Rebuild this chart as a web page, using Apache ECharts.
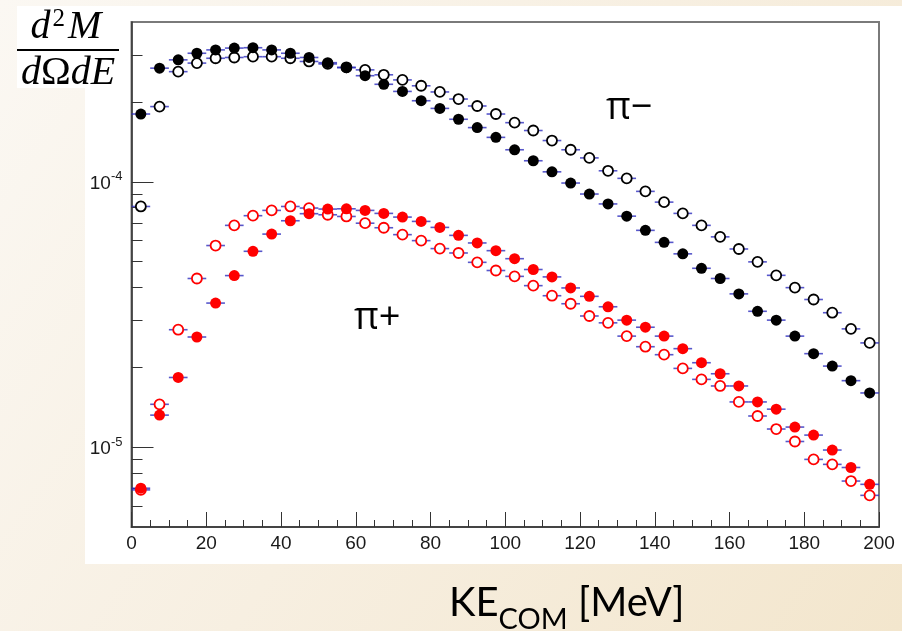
<!DOCTYPE html>
<html><head><meta charset="utf-8">
<script src="https://cdn.jsdelivr.net/npm/echarts@6/dist/echarts.min.js"></script>
<style>html,body{margin:0;padding:0;background:#f7efe0;}#c{width:902px;height:631px;}</style>
</head><body><div id="c"></div>
<script>
const binCenters = [2.5, 7.5, 12.5, 17.5, 22.5, 27.5, 32.5, 37.5, 42.5, 47.5,
  52.5, 57.5, 62.5, 67.5, 72.5, 77.5, 82.5, 87.5, 92.5, 97.5,
  102.5, 107.5, 112.5, 117.5, 122.5, 127.5, 132.5, 137.5, 142.5, 147.5,
  152.5, 157.5, 162.5, 167.5, 172.5, 177.5, 182.5, 187.5, 192.5, 197.5];
const binHalfWidth = 2.5;

const piMinusFilled = [1.80e-4, 2.68e-4, 2.88e-4, 3.05e-4, 3.14e-4, 3.19e-4, 3.20e-4, 3.14e-4, 3.05e-4, 2.94e-4,
  2.81e-4, 2.69e-4, 2.51e-4, 2.33e-4, 2.19e-4, 2.02e-4, 1.89e-4, 1.72e-4, 1.60e-4, 1.47e-4,
  1.32e-4, 1.20e-4, 1.09e-4, 9.89e-5, 8.99e-5, 8.25e-5, 7.42e-5, 6.56e-5, 5.91e-5, 5.35e-5,
  4.72e-5, 4.32e-5, 3.78e-5, 3.25e-5, 3.01e-5, 2.62e-5, 2.25e-5, 2.02e-5, 1.78e-5, 1.60e-5];
const piMinusOpen = [8.07e-5, 1.92e-4, 2.60e-4, 2.80e-4, 2.92e-4, 2.94e-4, 2.96e-4, 2.96e-4, 2.92e-4, 2.84e-4,
  2.78e-4, 2.70e-4, 2.64e-4, 2.53e-4, 2.42e-4, 2.30e-4, 2.18e-4, 2.05e-4, 1.93e-4, 1.80e-4,
  1.67e-4, 1.56e-4, 1.43e-4, 1.32e-4, 1.23e-4, 1.10e-4, 1.03e-4, 9.20e-5, 8.38e-5, 7.60e-5,
  6.85e-5, 6.20e-5, 5.58e-5, 4.99e-5, 4.44e-5, 3.99e-5, 3.60e-5, 3.21e-5, 2.79e-5, 2.47e-5];
const piPlusFilled = [7.0e-6, 1.32e-5, 1.83e-5, 2.60e-5, 3.49e-5, 4.43e-5, 5.47e-5, 6.35e-5, 7.13e-5, 7.58e-5,
  7.89e-5, 7.91e-5, 7.80e-5, 7.60e-5, 7.36e-5, 7.09e-5, 6.73e-5, 6.28e-5, 5.88e-5, 5.50e-5,
  5.13e-5, 4.67e-5, 4.38e-5, 3.98e-5, 3.70e-5, 3.38e-5, 3.01e-5, 2.83e-5, 2.62e-5, 2.35e-5,
  2.08e-5, 1.89e-5, 1.70e-5, 1.48e-5, 1.39e-5, 1.19e-5, 1.11e-5, 9.75e-6, 8.38e-6, 7.24e-6];
const piPlusOpen = [6.9e-6, 1.45e-5, 2.77e-5, 4.32e-5, 5.75e-5, 6.85e-5, 7.45e-5, 7.80e-5, 8.07e-5, 7.96e-5,
  7.51e-5, 7.40e-5, 6.98e-5, 6.71e-5, 6.32e-5, 6.00e-5, 5.60e-5, 5.39e-5, 4.97e-5, 4.63e-5,
  4.40e-5, 4.06e-5, 3.72e-5, 3.47e-5, 3.12e-5, 2.94e-5, 2.62e-5, 2.39e-5, 2.23e-5, 1.98e-5,
  1.80e-5, 1.70e-5, 1.48e-5, 1.31e-5, 1.17e-5, 1.05e-5, 8.99e-6, 8.61e-6, 7.45e-6, 6.58e-6];

const xMin = 0, xMax = 200, xInterval = 20;
const yMin = 5e-6, yMax = 4e-4;
const yMajorTicks = [1e-5, 1e-4];
const yMinorTicks = [6e-6, 7e-6, 8e-6, 9e-6, 2e-5, 3e-5, 4e-5, 5e-5, 6e-5, 7e-5, 8e-5, 9e-5, 2e-4, 3e-4];

function pairs(vals) { return binCenters.map((x, i) => [x, vals[i]]); }

function errorBars(vals) {
  return {
    type: 'custom', data: pairs(vals), z: 1, silent: true,
    encode: { x: 0, y: 1 },
    renderItem(params, api) {
      const x = api.value(0), y = api.value(1);
      const p1 = api.coord([x - binHalfWidth, y]);
      const p2 = api.coord([x + binHalfWidth, y]);
      return { type: 'line', shape: { x1: p1[0], y1: p1[1], x2: p2[0], y2: p2[1] },
        style: { stroke: 'rgba(45,45,190,0.8)', lineWidth: 1.6 } };
    }
  };
}
function filled(vals, color) {
  return { type: 'scatter', data: pairs(vals), symbol: 'circle', symbolSize: 11, z: 4, silent: true,
    itemStyle: { color: color, opacity: 1 } };
}
function open(vals, color) {
  return { type: 'scatter', data: pairs(vals), symbol: 'circle', symbolSize: 10, z: 3, silent: true,
    itemStyle: { color: '#ffffff', borderColor: color, borderWidth: 1.8, opacity: 1 } };
}

const chart = echarts.init(document.getElementById('c'), null, { renderer: 'canvas' });
chart.setOption({
  animation: false,
  backgroundColor: 'transparent',
  grid: { left: 131.5, right: 23, top: 22, bottom: 104, show: true, borderColor: '#7a7a7a', borderWidth: 2, backgroundColor: '#ffffff' },
  xAxis: {
    type: 'value', min: xMin, max: xMax, interval: xInterval,
    axisLine: { lineStyle: { color: '#333', width: 1.5 } },
    axisTick: { inside: true, length: 15, lineStyle: { color: '#333', width: 1 } },
    minorTick: { show: true, splitNumber: 4, length: 7, lineStyle: { color: '#333', width: 1 } },
    splitLine: { show: false },
    axisLabel: { margin: 7, fontSize: 19, fontFamily: 'Liberation Sans', color: '#1a1a1a' }
  },
  yAxis: [{
    type: 'log', logBase: 10, min: yMin, max: yMax, position: 'left',
    axisLine: { show: true, lineStyle: { color: '#333', width: 1.5 } },
    axisTick: { show: true, inside: true, length: 22, customValues: yMajorTicks, lineStyle: { color: '#333', width: 1 } },
    splitLine: { show: false },
    axisLabel: {
      customValues: yMajorTicks, margin: 9,
      formatter: v => '{b|10}{s|' + Math.round(Math.log10(v)) + '}',
      rich: {
        b: { fontSize: 19, fontFamily: 'Liberation Sans', color: '#1a1a1a', verticalAlign: 'bottom' },
        s: { fontSize: 13, fontFamily: 'Liberation Sans', color: '#1a1a1a', verticalAlign: 'bottom', padding: [0, 0, 10, 0] }
      }
    }
  }, {
    type: 'log', logBase: 10, min: yMin, max: yMax, position: 'left',
    axisLine: { show: false },
    axisTick: { show: true, inside: true, length: 11, customValues: yMinorTicks, lineStyle: { color: '#333', width: 1 } },
    axisLabel: { show: false },
    splitLine: { show: false }
  }],
  graphic: [
    { type: 'rect', z: -100, shape: { x: 0, y: 0, width: 902, height: 631 },
      style: { fill: new echarts.graphic.LinearGradient(0, 0, 1, 1, [
        { offset: 0, color: '#fbf8f3' }, { offset: 0.5, color: '#f7efe1' }, { offset: 1, color: '#f3e6cd' }]) } },
    { type: 'rect', z: -90, shape: { x: 85, y: 6, width: 817, height: 558 }, style: { fill: '#ffffff' } },
    { type: 'rect', z: -90, shape: { x: 17, y: 6, width: 103, height: 82 }, style: { fill: '#ffffff' } },
    { type: 'text', z: 100, x: 66, y: 27,
      style: { text: '{i|d}{s|2}{i|M}', textAlign: 'center', textVerticalAlign: 'middle',
        rich: { i: { font: 'italic 40px "Liberation Serif"', fill: '#000', verticalAlign: 'bottom' },
                s: { font: '25px "Liberation Serif"', fill: '#000', verticalAlign: 'bottom', padding: [0, 3, 16, 2] } } } },
    { type: 'rect', z: 100, shape: { x: 17, y: 49, width: 102, height: 2 }, style: { fill: '#000' } },
    { type: 'text', z: 100, x: 68, y: 73,
      style: { text: '{i|d}{r|Ω}{i|dE}', textAlign: 'center', textVerticalAlign: 'middle',
        rich: { i: { font: 'italic 40px "Liberation Serif"', fill: '#000' },
                r: { font: '40px "Liberation Serif"', fill: '#000' } } } },
    { type: 'text', z: 100, x: 606, y: 108,
      style: { text: 'π−', font: '38px "Open Sans"', fill: '#000', textVerticalAlign: 'middle' } },
    { type: 'text', z: 100, x: 354, y: 318,
      style: { text: 'π+', font: '38px "Open Sans"', fill: '#000', textVerticalAlign: 'middle' } },
    { type: 'text', z: 100, x: 449, y: 583,
      style: { text: '{a|KE}{b|COM}{a| [MeV]}', textVerticalAlign: 'top',
        rich: { a: { font: '40px Lato', fill: '#000', verticalAlign: 'top', lineHeight: 44 },
                b: { font: '29px Lato', fill: '#000', verticalAlign: 'top', lineHeight: 34, padding: [22, 0, 0, 0] } } } }
  ],
  series: [
    errorBars(piMinusOpen), errorBars(piMinusFilled), errorBars(piPlusOpen), errorBars(piPlusFilled),
    open(piMinusOpen, '#000000'), filled(piMinusFilled, '#000000'),
    open(piPlusOpen, '#ff0000'), filled(piPlusFilled, '#ff0000')
  ]
});
</script></body></html>
